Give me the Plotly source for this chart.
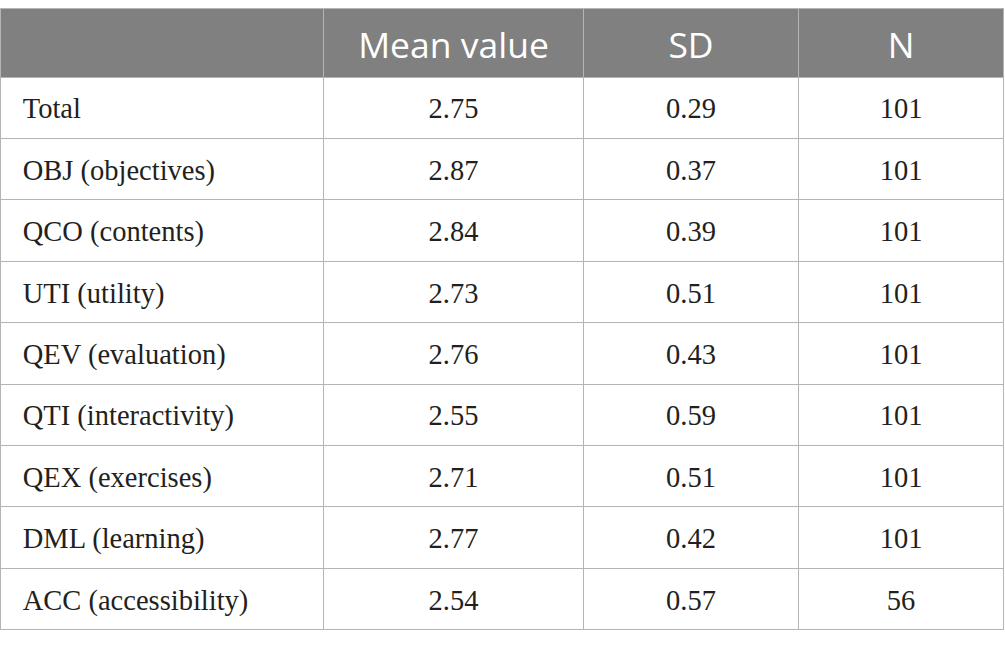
import plotly.graph_objects as go

# Table data
headers = ["", "Mean value", "SD", "N"]
scales = ["Total", "OBJ (objectives)", "QCO (contents)", "UTI (utility)",
          "QEV (evaluation)", "QTI (interactivity)", "QEX (exercises)",
          "DML (learning)", "ACC (accessibility)"]
mean_vals = ["2.75", "2.87", "2.84", "2.73", "2.76", "2.55", "2.71", "2.77", "2.54"]
sd_vals = ["0.29", "0.37", "0.39", "0.51", "0.43", "0.59", "0.51", "0.42", "0.57"]
n_vals = ["101", "101", "101", "101", "101", "101", "101", "101", "56"]

W, H = 1005, 648
GRIS_HEADER = "#808080"
GRIS_LINEA = "#b4b4b4"
TEXTO = "#231f20"
COL_W = [323, 260, 215, 205]
HEADER_H = 69
ROW_H = 61.4
TOP = 8          # px above the table
SHIFT = 12       # plotly puts cell text at the top, push it down to the middle
SHIFT_HEAD = 15  # header text needs a bit more

x_dom = [0.5 / W, (0.5 + sum(COL_W)) / W]
blank = [""] * len(scales)

# grid + fills
grid = go.Table(
    domain=dict(x=x_dom, y=[0, 1 - TOP / H]),
    columnwidth=COL_W,
    header=dict(values=[""] * 4, fill_color=GRIS_HEADER,
                line=dict(color=GRIS_LINEA, width=1), height=HEADER_H),
    cells=dict(values=[blank] * 4, fill_color="white",
               line=dict(color=GRIS_LINEA, width=1), height=ROW_H),
)

# text layer, transparent, a few px lower
pad = "\u00a0" * 2
texto = go.Table(
    domain=dict(x=x_dom, y=[0, 1 - (TOP + SHIFT_HEAD) / H]),
    columnwidth=COL_W,
    header=dict(
        values=headers,
        fill_color="rgba(0,0,0,0)",
        line=dict(width=0, color="rgba(0,0,0,0)"),
        font=dict(family="Open Sans", size=35.5, color="white"),
        align="center",
        height=HEADER_H - (SHIFT_HEAD - SHIFT),
    ),
    cells=dict(
        values=[[pad + s for s in scales], mean_vals, sd_vals, n_vals],
        fill_color="rgba(0,0,0,0)",
        line=dict(width=0, color="rgba(0,0,0,0)"),
        font=dict(family="Liberation Serif", size=28.5, color=TEXTO),
        align=["left", "center", "center", "center"],
        height=ROW_H,
    ),
)

fig = go.Figure([grid, texto])
fig.update_layout(
    width=W, height=H,
    margin=dict(l=0, r=0, t=0, b=0),
    paper_bgcolor="white",
)
fig.write_html("out.html", config={"displayModeBar": False},
               post_script="document.body.style.margin='0';")
